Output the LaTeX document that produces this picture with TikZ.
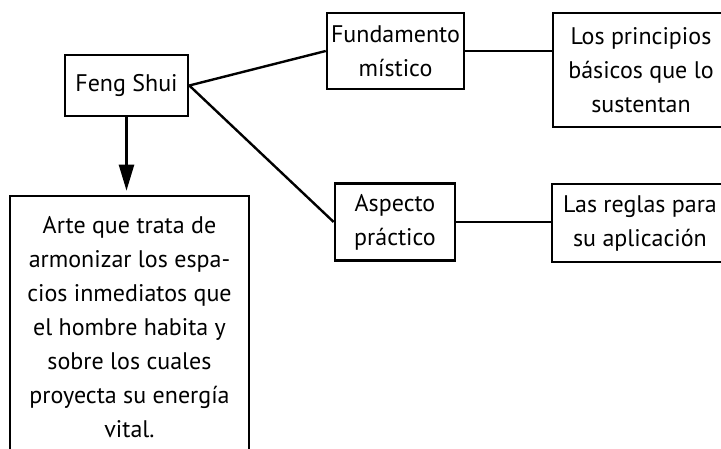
\documentclass[tikz,border=0pt]{standalone}
\usepackage{fontspec}
\setmainfont{PT Sans}
\usetikzlibrary{arrows.meta}
\begin{document}
\begin{tikzpicture}[x=1pt,y=-1pt,
  box/.style={draw=black, line width=2.6pt, align=center, inner sep=0pt,
    font=\fontsize{24}{34}\selectfont},
  link/.style={draw=black, line width=2.4pt},
  down/.style={draw=black, line width=2.4pt, -{Triangle[length=26pt,width=15pt]}, shorten >=4pt}]
\useasboundingbox (0,0) rectangle (721,448);
\node[box, minimum width=123pt, minimum height=61pt] (feng) at (126.5,85.5) {Feng Shui};
\node[box, minimum width=137pt, minimum height=76pt] (fund) at (395.5,51) {Fundamento\\místico};
\node[box, minimum width=176pt, minimum height=114pt] (prin) at (641,70) {Los principios\\básicos que lo\\sustentan};
\node[box, minimum width=120pt, minimum height=77pt] (asp) at (395,222) {Aspecto\\práctico};
\node[box, minimum width=176pt, minimum height=78pt] (reg) at (640,223) {Las reglas para\\su aplicación};
\node[box, minimum width=239pt, minimum height=262pt] (arte) at (129.5,327) {Arte que trata de\\armonizar los espa-\\cios inmediatos que\\el hombre habita y\\sobre los cuales\\proyecta su energía\\vital.};
\draw[link] (feng.east) -- (fund.west);
\draw[link] (feng.east) -- (asp.west);
\draw[link] (fund.east) -- (fund.east -| prin.west);
\draw[link] (asp.east) -- (asp.east -| reg.west);
\draw[down] (feng.south) -- (feng.south |- arte.north);
\end{tikzpicture}
\end{document}
